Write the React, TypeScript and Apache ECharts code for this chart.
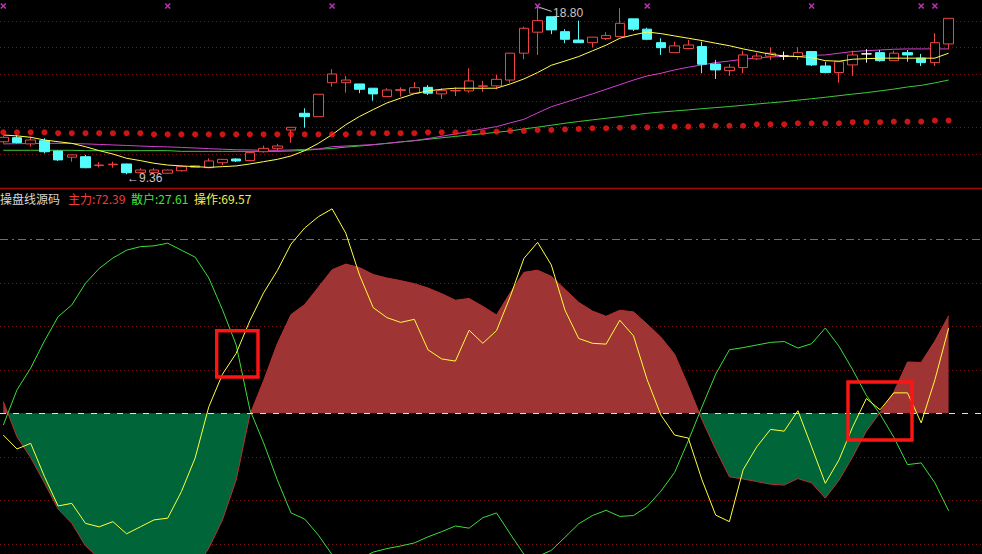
import React, { useEffect, useRef } from 'react';
import * as echarts from 'echarts';

// ---------- data ----------
const N = 70;
const categories: string[] = Array.from({ length: N }, (_, i) => 'D' + (i + 1));

const openP = [11.19,11.42,11.07,11.25,10.67,10.32,10.35,9.85,9.90,9.94,
  9.45,9.47,9.42,9.56,9.75,9.73,10.01,10.22,10.13,10.63,
  10.82,11.85,12.79,12.60,14.51,14.51,14.44,14.20,13.73,14.08,
  13.92,14.25,13.88,14.05,14.05,14.31,14.33,14.66,16.17,17.35,
  18.22,17.38,16.91,16.76,16.99,17.10,18.10,17.52,16.76,16.20,
  16.43,16.54,15.56,15.19,15.36,15.85,16.00,16.01,15.98,16.26,
  15.45,15.08,15.51,16.13,16.20,15.75,16.20,15.89,15.64,16.69];
const closeP = [11.44,11.14,11.29,10.63,10.17,10.45,9.73,9.88,9.93,9.45,
  9.60,9.60,9.60,9.79,9.84,10.11,10.20,10.11,10.58,10.82,
  10.95,12.00,12.60,13.86,15.00,14.66,14.14,13.88,14.10,14.12,
  14.23,13.92,14.06,14.07,14.61,14.33,14.70,16.17,17.57,18.00,
  17.48,16.95,16.76,17.07,17.16,17.85,17.52,16.95,16.48,16.58,
  16.63,15.55,15.23,15.38,16.07,16.01,16.17,16.01,16.20,15.51,
  15.08,15.69,16.07,16.13,15.75,16.17,16.07,15.64,16.76,18.13];
const lowP = [11.10,11.10,10.91,10.54,10.11,10.07,9.70,9.75,9.73,9.36,
  9.42,9.45,9.40,9.51,9.73,9.70,9.88,10.05,10.13,10.58,
  10.63,11.14,11.98,12.60,14.29,13.95,13.92,13.50,13.73,13.73,
  13.88,13.82,13.60,13.76,13.95,14.00,14.14,14.51,15.83,16.07,
  17.24,16.73,16.76,16.50,16.91,17.10,17.42,16.90,16.07,16.20,
  16.40,15.04,14.72,14.89,15.04,15.79,15.79,15.79,15.79,15.45,
  15.04,14.51,14.89,15.64,15.70,15.75,15.69,15.45,15.45,16.39];
const highP = [11.50,11.57,11.48,11.39,10.70,10.47,10.45,10.04,10.07,9.96,
  9.70,9.72,9.62,9.87,9.87,10.26,10.22,10.26,10.58,10.97,
  11.07,12.00,13.07,13.86,15.27,14.89,14.44,14.20,14.20,14.25,
  14.54,14.38,14.20,14.25,15.32,14.61,14.95,16.17,17.66,18.80,
  18.22,17.52,18.00,17.07,17.35,18.70,18.10,17.60,17.01,16.82,
  16.91,16.82,15.79,15.56,16.31,16.20,16.50,16.26,16.50,16.26,
  15.69,15.69,16.31,16.39,16.35,16.31,16.35,16.13,17.29,18.13];

const maYellow = [11.57,11.52,11.44,11.29,11.19,11.10,10.91,10.69,10.50,10.26,
  10.13,9.98,9.88,9.83,9.79,9.75,9.79,9.83,9.94,10.07,
  10.20,10.39,10.69,11.10,11.59,12.15,12.61,13.00,13.37,13.64,
  13.89,14.05,14.14,14.20,14.20,14.20,14.20,14.44,14.72,15.08,
  15.49,15.73,15.98,16.30,16.62,17.01,17.20,17.36,17.27,17.14,
  17.01,16.88,16.73,16.59,16.41,16.26,16.11,16.01,15.98,15.92,
  15.75,15.72,15.83,15.86,15.89,15.89,15.89,15.89,15.89,16.17];
const maMagenta = [11.07,11.08,11.09,11.10,11.10,11.09,11.07,11.04,11.01,10.98,
  10.95,10.92,10.90,10.87,10.84,10.80,10.77,10.74,10.73,10.71,
  10.71,10.73,10.76,10.78,10.91,10.95,10.99,11.03,11.10,11.18,
  11.25,11.37,11.50,11.63,11.77,11.91,12.04,12.25,12.45,12.81,
  13.16,13.40,13.64,13.88,14.14,14.40,14.66,14.89,15.04,15.23,
  15.38,15.51,15.64,15.73,15.83,15.90,15.96,15.98,16.01,16.05,
  16.07,16.17,16.26,16.31,16.35,16.39,16.41,16.41,16.41,16.41];
const maGreen = [10.71,10.71,10.71,10.71,10.71,10.71,10.69,10.69,10.69,10.69,
  10.69,10.69,10.69,10.65,10.65,10.65,10.65,10.65,10.65,10.65,
  10.65,10.67,10.71,10.77,10.81,10.89,10.95,11.02,11.10,11.18,
  11.25,11.33,11.41,11.49,11.57,11.64,11.72,11.80,11.91,12.01,
  12.12,12.23,12.33,12.42,12.51,12.60,12.70,12.79,12.86,12.92,
  12.98,13.05,13.11,13.17,13.24,13.31,13.38,13.44,13.53,13.61,
  13.69,13.78,13.87,13.95,14.05,14.15,14.27,14.36,14.50,14.66];
const redDots = [11.72,11.72,11.72,11.72,11.67,11.67,11.67,11.67,11.67,11.67,
  11.67,11.61,11.61,11.61,11.61,11.61,11.61,11.61,11.61,11.61,
  11.61,11.61,11.61,11.61,11.61,11.61,11.67,11.67,11.67,11.67,
  11.67,11.72,11.72,11.72,11.72,11.72,11.76,11.80,11.80,11.85,
  11.85,11.89,11.91,11.95,11.95,11.98,12.00,12.00,12.04,12.04,
  12.04,12.09,12.09,12.09,12.09,12.17,12.17,12.17,12.23,12.23,
  12.23,12.23,12.29,12.29,12.29,12.32,12.32,12.32,12.38,12.38];
const signalIdx = [0, 12, 24, 39, 47, 59, 67, 68];
const topTicks = [10.5, 12, 13.5, 15, 16.5, 18];

const zhuli = [52.7,44.6,39.8,34.0,28.0,24.7,19.5,16.7,14.3,12.5,
  11.7,11.5,10.9,12.5,14.1,19.0,25.5,34.7,49.7,57.5,
  66.0,72.7,75.0,79.0,83.0,84.3,83.5,81.9,81.1,80.5,
  79.8,78.8,77.5,76.0,76.4,74.6,72.6,77.7,82.4,82.9,
  81.5,78.5,75.5,73.5,72.3,73.7,73.3,70.5,67.5,63.6,
  56.3,48.5,41.7,35.4,34.9,34.3,33.7,33.5,35.0,34.0,
  30.5,34.6,40.0,45.9,50.2,54.9,61.8,61.7,66.6,72.39];
const sanhu = [47.3,55.4,60.4,66.6,72.2,74.9,79.9,83.3,85.7,87.5,
  88.3,88.5,89.1,87.5,85.9,81.1,73.8,65.7,50.8,43.2,
  34.7,27.1,25.7,22.0,17.5,15.7,16.5,18.1,18.9,19.5,
  20.2,21.6,22.8,24.1,23.6,26.0,27.1,22.3,17.6,17.1,
  18.5,21.5,24.6,26.5,27.7,26.3,26.5,28.6,32.1,36.4,
  43.7,51.5,59.0,64.6,65.1,65.7,66.3,66.5,65.0,66.0,
  69.6,65.4,60.0,54.1,49.8,44.5,38.2,38.6,34.0,27.61];
const caozuo = [45.0,41.8,43.1,35.5,28.7,29.3,24.7,23.9,25.1,22.3,
  23.9,25.5,25.9,32.0,39.7,51.5,59.0,63.8,71.3,77.7,
  82.8,88.9,92.6,95.2,97.0,91.4,81.8,74.3,72.0,70.9,
  71.6,64.6,62.5,62.0,69.1,66.1,69.0,76.8,85.6,89.3,
  84.1,73.7,67.2,66.1,65.9,71.4,67.8,57.7,49.6,45.0,
  44.3,34.7,26.6,25.1,37.0,42.3,46.3,45.9,50.6,42.3,
  33.9,39.3,46.9,53.4,50.8,54.7,54.7,47.8,57.7,69.57];
const bottomTicks = [20, 30, 40, 60, 70, 80];
const upperBand = 90;
const midLine = 50;

// ---------- component ----------
export default function App() {
  const ref = useRef<HTMLDivElement>(null);
  useEffect(() => {
    if (!ref.current) return;
    const chart = echarts.init(ref.current, null, { renderer: 'svg' });
    const W = 982;
    const candles = openP.map((o, i) => [o, closeP[i], lowP[i], highP[i]]);
    const markTop = 18.82;

    const option: any = {
      animation: false,
      backgroundColor: '#000000',
      grid: [
        { left: 3.3, right: 33.4, top: 0, height: 188.7 },
        { left: 3.3, right: 33.4, top: 189, bottom: 0 },
      ],
      xAxis: [
        { type: 'category', gridIndex: 0, data: categories, boundaryGap: false, show: false },
        { type: 'category', gridIndex: 1, data: categories, boundaryGap: false, show: false },
      ],
      yAxis: [
        { type: 'value', gridIndex: 0, min: 8.55, max: 19.16, show: false, splitLine: { show: false } },
        { type: 'value', gridIndex: 1, min: 17.66, max: 101.56, show: false, splitLine: { show: false } },
      ],
      visualMap: {
        show: false,
        type: 'piecewise',
        seriesIndex: 6,
        dimension: 1,
        pieces: [
          { gte: -100, lt: midLine, color: '#00663a' },
          { gte: midLine, lte: 200, color: '#9e3434' },
        ],
      },
      series: [
        {
          name: 'MA3', type: 'line', xAxisIndex: 0, yAxisIndex: 0, data: maGreen,
          symbol: 'none', z: 2, lineStyle: { color: '#3cc83c', width: 1 },
        },
        {
          name: 'MA2', type: 'line', xAxisIndex: 0, yAxisIndex: 0, data: maMagenta,
          symbol: 'none', z: 2, lineStyle: { color: '#d040d0', width: 1 },
        },
        {
          name: 'K', type: 'candlestick', xAxisIndex: 0, yAxisIndex: 0, data: candles,
          barWidth: 10, clip: false, z: 3,
          itemStyle: {
            color: '#000000', color0: '#54fcfc',
            borderColor: '#f04444', borderColor0: '#54fcfc',
            borderColorDoji: '#ffffff', borderWidth: 1,
          },
        },
        {
          name: 'MA1', type: 'line', xAxisIndex: 0, yAxisIndex: 0, data: maYellow,
          symbol: 'none', z: 4, lineStyle: { color: '#ffff50', width: 1 },
        },
        {
          name: 'SAR', type: 'scatter', xAxisIndex: 0, yAxisIndex: 0, data: redDots,
          symbol: 'circle', symbolSize: 6, z: 4, itemStyle: { color: '#ff1a1a' },
        },
        {
          name: 'SIG', type: 'scatter', xAxisIndex: 0, yAxisIndex: 0,
          data: signalIdx.map((i) => [i, markTop]),
          symbol: 'path://M0,0L10,10M10,0L0,10', symbolSize: 5, z: 5,
          itemStyle: { color: 'rgba(0,0,0,0)', borderColor: '#e040e0', borderWidth: 1.6 },
        },
        {
          name: '主力区', type: 'line', xAxisIndex: 1, yAxisIndex: 1, data: zhuli,
          symbol: 'none', z: 2, lineStyle: { width: 0 },
          areaStyle: { origin: midLine, opacity: 1 },
        },
        {
          name: '主力', type: 'line', xAxisIndex: 1, yAxisIndex: 1, data: zhuli,
          symbol: 'none', z: 3, lineStyle: { color: '#b83030', width: 1 },
        },
        {
          name: '散户', type: 'line', xAxisIndex: 1, yAxisIndex: 1, data: sanhu,
          symbol: 'none', z: 4, lineStyle: { color: '#3ade3a', width: 1 },
        },
        {
          name: '操作', type: 'line', xAxisIndex: 1, yAxisIndex: 1, data: caozuo,
          symbol: 'none', z: 5, lineStyle: { color: '#ffff3c', width: 1 },
        },
      ],
    };
    chart.setOption(option);

    const yTop = (v: number) => Math.round(chart.convertToPixel({ yAxisIndex: 0 }, v) as number) + 0.5;
    const yBot = (v: number) => Math.round(chart.convertToPixel({ yAxisIndex: 1 }, v) as number) + 0.5;
    const hiVal = Math.max(...highP);
    const hiIdx = highP.indexOf(hiVal);
    const loVal = Math.min(...lowP);
    const loIdx = lowP.indexOf(loVal);
    const hp = chart.convertToPixel({ seriesIndex: 2 }, [hiIdx, hiVal]) as number[];
    const lp = chart.convertToPixel({ seriesIndex: 2 }, [loIdx, loVal]) as number[];

    const graphics: any[] = [];
    topTicks.forEach((v) => {
      const y = yTop(v);
      graphics.push({ type: 'line', z: 0, silent: true, shape: { x1: 0, y1: y, x2: W, y2: y },
        style: { stroke: '#7a1616', lineWidth: 1, lineDash: [1, 3] } });
    });
    bottomTicks.forEach((v) => {
      const y = yBot(v);
      graphics.push({ type: 'line', z: 0, silent: true, shape: { x1: 0, y1: y, x2: W, y2: y },
        style: { stroke: '#7a1616', lineWidth: 1, lineDash: [1, 3] } });
    });
    {
      const y = yBot(upperBand);
      graphics.push({ type: 'line', z: 0, silent: true, shape: { x1: 0, y1: y, x2: W, y2: y },
        style: { stroke: '#c04860', lineWidth: 1, lineDash: [8, 4, 2, 4] } });
    }
    {
      const y = yBot(midLine);
      graphics.push({ type: 'line', z: 10, silent: true, shape: { x1: 0, y1: y, x2: W, y2: y },
        style: { stroke: '#ecec78', lineWidth: 1, lineDash: [6, 7] } });
    }
    graphics.push({ type: 'line', z: 10, silent: true, shape: { x1: 0, y1: 188.5, x2: W, y2: 188.5 },
      style: { stroke: '#a00c0c', lineWidth: 1.5 } });
    graphics.push({ type: 'rect', z: 12, silent: true, shape: { x: 216.7, y: 330.7, width: 41.3, height: 46.3 },
      style: { fill: 'none', stroke: '#ff1414', lineWidth: 3.4 } });
    graphics.push({ type: 'rect', z: 12, silent: true, shape: { x: 848, y: 382, width: 64, height: 58 },
      style: { fill: 'none', stroke: '#ff1414', lineWidth: 3.4 } });
    graphics.push({ type: 'line', z: 12, silent: true,
      shape: { x1: hp[0] + 2, y1: hp[1] + 1, x2: hp[0] + 14, y2: hp[1] + 5 },
      style: { stroke: '#c8c8c8', lineWidth: 1 } });
    graphics.push({ type: 'text', z: 12, silent: true, x: hp[0] + 15.5, y: hp[1] + 7,
      style: { text: hiVal.toFixed(2), fill: '#c8c8c8', font: '12px "Liberation Sans", sans-serif', verticalAlign: 'middle' } });
    graphics.push({ type: 'text', z: 12, silent: true, x: lp[0] + 0.5, y: lp[1] + 4,
      style: { text: '←' + loVal.toFixed(2), fill: '#c8c8c8', font: '12px "Liberation Sans", "DejaVu Sans", sans-serif', verticalAlign: 'middle' } });
    const hf = '12px "Noto Sans CJK SC", sans-serif';
    const hdr: [number, string, string][] = [
      [0, '操盘线源码', '#d8d8d8'],
      [68, '主力:' + zhuli[N - 1].toFixed(2), '#f03c3c'],
      [131, '散户:' + sanhu[N - 1].toFixed(2), '#3ce63c'],
      [194, '操作:' + caozuo[N - 1].toFixed(2), '#f0f050'],
    ];
    hdr.forEach(([x, t, c]) => {
      graphics.push({ type: 'text', z: 12, silent: true, x, y: 198,
        style: { text: t, fill: c, font: hf, verticalAlign: 'middle' } });
    });
    chart.setOption({ graphic: graphics });

    return () => chart.dispose();
  }, []);
  return <div ref={ref} style={{ position: 'fixed', left: 0, top: 0, width: 982, height: 554 }} />;
}
